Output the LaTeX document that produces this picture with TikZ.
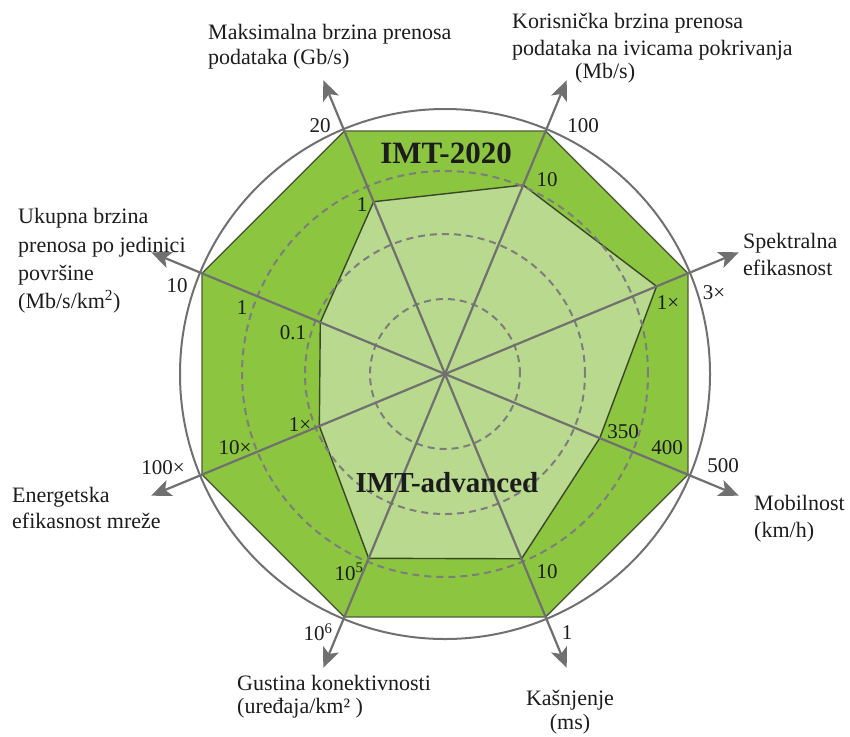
\documentclass[tikz,border=0pt]{standalone}
\usepackage{fontspec}
\setmainfont{Liberation Serif}
\newfontfamily\timesfont{Liberation Serif}
\usetikzlibrary{arrows.meta,calc}
\definecolor{darkgreen}{RGB}{140,197,64}
\definecolor{lightgreen}{RGB}{185,217,142}
\definecolor{axisgray}{RGB}{112,112,112}
\definecolor{dashgray}{RGB}{125,125,125}
\definecolor{edgeouter}{RGB}{78,90,58}
\definecolor{edgeinner}{RGB}{58,70,40}
\definecolor{txt}{RGB}{28,28,28}
\begin{document}
\begin{tikzpicture}[x=1pt,y=-1pt,
  lbl/.style={anchor=base west, inner sep=0pt, font=\timesfont\fontsize{22}{26}\selectfont, text=txt},
  lblc/.style={anchor=base, inner sep=0pt, font=\timesfont\fontsize{22}{26}\selectfont, text=txt},
  tick/.style={inner sep=0pt, font=\timesfont\fontsize{21}{24}\selectfont, text=txt},
  bigtitle/.style={inner sep=0pt, font=\timesfont\fontsize{31}{34}\selectfont\bfseries, text=txt},
  axisline/.style={draw=axisgray, line width=2.2pt},
  axisarrow/.style={axisline, -{Stealth[length=20pt,width=17pt,inset=5pt]}},
  ring/.style={draw=dashgray, line width=2pt, dash pattern=on 7pt off 5pt},
]
\useasboundingbox (0,0) rectangle (850,736);
\coordinate (C) at (445,374);
\begin{scope}[shift={(445,374)}, y=1pt]
  % outer octagon (IMT-2020) and arrow tips
  \foreach \a/\n in {112.5/1, 67.5/2, 22.5/3, -22.5/4, -67.5/5, -112.5/6, 202.5/7, 157.5/8}
    {\coordinate (o\n) at (\a:263); \coordinate (t\n) at (\a:318);}
  % inner octagon (IMT-advanced)
  \coordinate (i1) at (112.5:186.5);
  \coordinate (i2) at (67.5:204.5);
  \coordinate (i3) at (22.5:229);
  \coordinate (i4) at (-22.5:167.5);
  \coordinate (i5) at (-67.5:200);
  \coordinate (i6) at (-112.5:199.5);
  \coordinate (i7) at (202.5:136);
  \coordinate (i8) at (157.5:135);
\end{scope}

% outer circle
\draw[draw=axisgray, line width=2pt] (C) circle[radius=265pt];
% octagons
\filldraw[fill=darkgreen, draw=edgeouter, line width=1.4pt, line join=miter]
  (o1) -- (o2) -- (o3) -- (o4) -- (o5) -- (o6) -- (o7) -- (o8) -- cycle;
\filldraw[fill=lightgreen, draw=edgeinner, line width=1.4pt, line join=miter]
  (i1) -- (i2) -- (i3) -- (i4) -- (i5) -- (i6) -- (i7) -- (i8) -- cycle;
% dashed rings
\draw[ring] (C) circle[radius=75pt];
\draw[ring] (C) circle[radius=140pt];
\draw[ring] (C) circle[radius=203pt];
% axes with arrows
\foreach \n in {1,...,8} \draw[axisarrow] (C) -- (t\n);

% titles
\node[bigtitle] (imt2020) at (446,153) {IMT-2020};
\node[bigtitle, font=\timesfont\fontsize{29}{32}\selectfont\bfseries] (imtadv) at (447,483) {IMT-advanced};

% tick labels
\node[tick] (k20) at (320,126) {20};
\node[tick] (k1a) at (362,205) {1};
\node[tick] (k100) at (583,126) {100};
\node[tick] (k10a) at (547,180) {10};
\node[tick] (k3x) at (714,293) {3×};
\node[tick] (k1x) at (668,303) {1×};
\node[tick] (k350) at (623,432) {350};
\node[tick] (k400) at (667,448) {400};
\node[tick] (k500) at (723,466) {500};
\node[tick] (k10b) at (547,572) {10};
\node[tick] (k1b) at (567,633) {1};
\node[tick] (k105) at (349,572) {10\textsuperscript{5}};
\node[tick] (k106) at (318,632) {10\textsuperscript{6}};
\node[tick] (k100x) at (163,468) {100×};
\node[tick] (k10x) at (235,448) {10×};
\node[tick] (k1xe) at (300,425) {1×};
\node[tick] (k10c) at (177,286) {10};
\node[tick] (k1c) at (242,308) {1};
\node[tick] (k01) at (293,333) {0.1};

% axis labels
\node[lbl] (pk1) at (208,39) {Maksimalna brzina prenosa};
\node[lbl] (pk2) at (208,64) {podataka (Gb/s)};
\node[lbl] (ue1) at (512,28) {Korisnička brzina prenosa};
\node[lbl] (ue2) at (512,55) {podataka na ivicama pokrivanja};
\node[lbl] (ue3) at (575,78) {(Mb/s)};
\node[lbl] (ar1) at (18,223) {Ukupna brzina};
\node[lbl] (ar2) at (18,252) {prenosa po jedinici};
\node[lbl] (ar3) at (18,280) {površine};
\node[lbl] (ar4) at (18,308) {(Mb/s/km\textsuperscript{2})};
\node[lbl] (se1) at (743,248) {Spektralna};
\node[lbl] (se2) at (743,275) {efikasnost};
\node[lbl] (en1) at (12,502) {Energetska};
\node[lbl] (en2) at (12,528) {efikasnost mreže};
\node[lbl] (mo1) at (754,510) {Mobilnost};
\node[lbl] (mo2) at (754,537) {(km/h)};
\node[lbl] (cd1) at (237,690) {Gustina konektivnosti};
\node[lbl] (cd2) at (237,713) {(uređaja/km² )};
\node[lblc] (la1) at (570,705) {Kašnjenje};
\node[lblc] (la2) at (570,729) {(ms)};
\end{tikzpicture}
\end{document}
